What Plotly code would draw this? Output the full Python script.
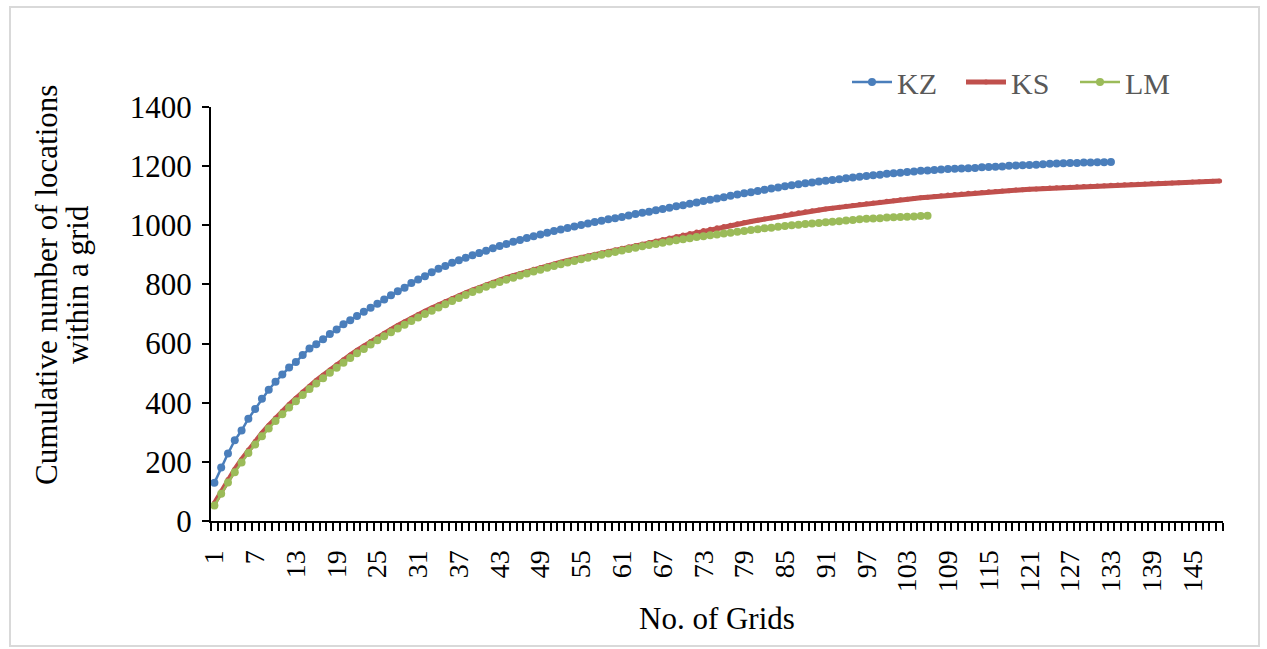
import plotly.graph_objects as go

# Cumulative number of locations per grid, one list per site
kz = [129, 181, 228, 273, 306, 346, 379, 413, 444, 471, 495, 519, 538, 561, 583, 598, 615, 632, 648, 665,
      679, 693, 708, 721, 735, 749, 763, 777, 789, 805, 817, 828, 841, 853, 862, 873, 882, 890, 899, 906,
      914, 922, 930, 937, 944, 950, 957, 963, 969, 975, 981, 986, 991, 996, 1001,
      1006, 1011, 1015, 1020, 1024, 1028,
      1033, 1038, 1042, 1046, 1051, 1055,
      1059, 1064, 1068, 1073, 1077, 1082,
      1086, 1091, 1095, 1100, 1104, 1108,
      1112, 1116, 1120, 1124, 1128, 1132,
      1135, 1139, 1142, 1145, 1148, 1151,
      1153, 1156, 1159, 1162, 1164, 1167,
      1169, 1171, 1174, 1176, 1178, 1180,
      1182, 1184, 1185, 1187, 1189, 1190,
      1191, 1192, 1193, 1194, 1196, 1197,
      1198, 1199, 1201, 1202, 1203, 1204,
      1205, 1206, 1208, 1209, 1210, 1211,
      1211, 1212, 1212, 1213, 1213, 1214]

ks = [60, 100, 140, 175, 208, 240, 269, 297, 323, 348, 371, 394, 415, 436, 456, 475, 493, 511, 528, 545,
      561, 577, 592, 607, 621, 635, 648, 661, 674, 686, 698, 709, 720, 731, 742, 752, 762, 772, 781, 790,
      799, 807, 815, 823, 830, 837, 844, 851, 857, 863, 869, 875, 881, 886, 892, 897, 902, 907, 912, 917,
      922, 927, 932, 937, 942, 947, 952, 957, 962, 967, 972, 977, 982, 987, 992, 996, 1000, 1005, 1009, 1013,
      1017, 1021, 1025, 1029,
      1035, 1039, 1042, 1046, 1049, 1052, 1055, 1058, 1061, 1064, 1067, 1070, 1073, 1075, 1078, 1081,
      1083, 1086, 1088, 1091, 1093, 1095, 1097, 1100, 1102, 1104, 1106, 1108, 1109, 1111, 1113, 1114,
      1116, 1117, 1119, 1120, 1122, 1123, 1124, 1126, 1127, 1128, 1129, 1130, 1131, 1132, 1133, 1134,
      1135, 1136, 1137, 1138, 1139, 1140, 1141, 1142, 1142, 1143, 1144, 1145, 1146, 1147, 1148, 1149, 1150]

lm = [52, 92, 130, 165, 198, 230, 259, 287, 313, 338, 361, 384, 405, 426, 446, 465, 483, 501, 518, 535,
      551, 567, 582, 597, 611, 625, 638, 651, 664, 676, 688, 700, 711, 722, 733, 744, 754, 764, 774, 783,
      792, 800, 808, 816, 823, 830, 837, 844, 850, 856, 862, 868, 874, 879, 885, 890, 895, 900, 905, 910,
      915, 920, 924, 929, 933, 937, 941, 945, 949, 953, 956, 960, 963, 966, 969, 972, 975, 978, 981, 984,
      987, 990, 992, 995, 998, 1000, 1002, 1004, 1006, 1008, 1010, 1012, 1014, 1016, 1018, 1020, 1022, 1023,
      1024, 1026, 1027, 1028, 1029, 1030, 1031, 1032]

n_grids = max(len(kz), len(ks), len(lm))
grid_ids = list(range(1, n_grids + 1))
label_step = 6
tick_text = [str(g) if (g - 1) % label_step == 0 else "" for g in grid_ids]
y_ticks = [0, 200, 400, 600, 800, 1000, 1200, 1400]

SERIF = "Liberation Serif, Times New Roman, serif"

# plot area in pixels
L, R, T, B = 211, 44, 107, 128
W, H = 1267, 649
PW, PH = W - L - R, H - T - B


def px_x(x):
    return (x - L) / PW


def px_y(y):
    return (H - B - y) / PH


fig = go.Figure()
fig.add_trace(go.Scatter(
    x=list(range(1, len(kz) + 1)), y=kz, name="KZ", mode="lines+markers",
    line=dict(color="#4A7EBB", width=2.5),
    marker=dict(color="#4A7EBB", size=8),
))
fig.add_trace(go.Scatter(
    x=list(range(1, len(ks) + 1)), y=ks, name="KS", mode="lines+markers",
    line=dict(color="#C0504D", width=5),
    marker=dict(color="#C0504D", size=5),
))
fig.add_trace(go.Scatter(
    x=list(range(1, len(lm) + 1)), y=lm, name="LM", mode="lines+markers",
    line=dict(color="#9BBB59", width=2.5),
    marker=dict(color="#9BBB59", size=8),
))

fig.update_layout(
    width=W, height=H,
    margin=dict(l=L, r=R, t=T, b=B),
    paper_bgcolor="white", plot_bgcolor="white",
    font=dict(family=SERIF, size=28, color="black"),
    showlegend=True,
    legend=dict(
        orientation="h", x=px_x(847), y=px_y(82), xanchor="left", yanchor="middle",
        font=dict(family=SERIF, size=30, color="#595959"),
        bgcolor="rgba(0,0,0,0)", itemwidth=40, tracegroupgap=0,
        entrywidth=59, entrywidthmode="pixels",
    ),
)

fig.update_xaxes(
    range=[0.5, n_grids + 0.5],
    tickmode="array", tickvals=grid_ids, ticktext=tick_text,
    tickangle=-90, ticks="", ticklabelstandoff=16,
    tickfont=dict(family=SERIF, size=28, color="black"),
    showline=True, linecolor="black", linewidth=2,
    showgrid=False, zeroline=False,
    minor=dict(tickmode="linear", tick0=0.5, dtick=1, ticks="outside",
               ticklen=8, tickwidth=2, tickcolor="black", showgrid=False),
)
fig.update_yaxes(
    range=[0, 1400], tickmode="array", tickvals=y_ticks,
    ticks="outside", ticklen=7, tickwidth=2, tickcolor="black",
    ticklabelstandoff=4,
    tickfont=dict(family=SERIF, size=31, color="black"),
    showline=True, linecolor="black", linewidth=2,
    showgrid=False, zeroline=False,
)

# Axis titles
fig.add_annotation(
    text="Cumulative number of locations", xref="paper", yref="paper",
    x=px_x(46), y=px_y(285), xanchor="center", yanchor="middle",
    textangle=-90, showarrow=False, font=dict(family=SERIF, size=31, color="black"),
)
fig.add_annotation(
    text="within a grid", xref="paper", yref="paper",
    x=px_x(77), y=px_y(285), xanchor="center", yanchor="middle",
    textangle=-90, showarrow=False, font=dict(family=SERIF, size=31, color="black"),
)
fig.add_annotation(
    text="No. of Grids", xref="paper", yref="paper",
    x=px_x(717), y=px_y(618), xanchor="center", yanchor="middle",
    showarrow=False, font=dict(family=SERIF, size=31, color="black"),
)

# Light frame around the whole chart
fig.add_shape(
    type="rect", xref="paper", yref="paper",
    x0=px_x(10), x1=px_x(1259), y0=px_y(646), y1=px_y(7),
    line=dict(color="#D9D9D9", width=2), fillcolor="rgba(0,0,0,0)", layer="below",
)

fig.write_html("out.html")
